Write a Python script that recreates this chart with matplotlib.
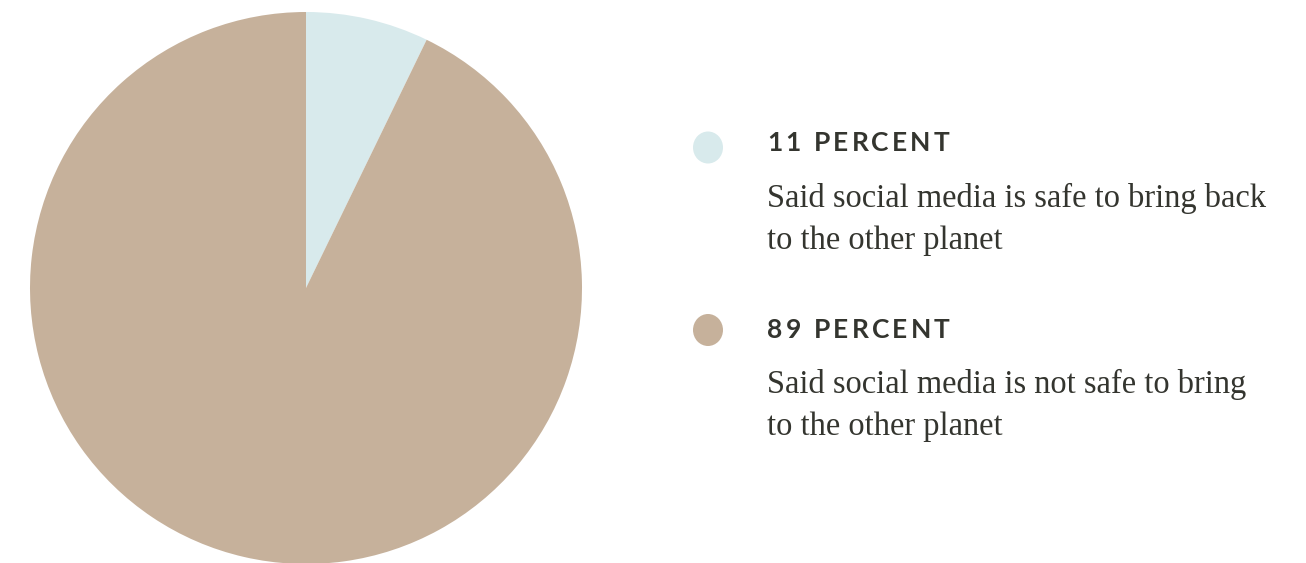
import matplotlib
matplotlib.use("Agg")
import matplotlib.pyplot as plt
from matplotlib.patches import Ellipse

# data
categories = ["Safe to bring back", "Not safe to bring"]
label_percent = [11, 89]
# slice shares as drawn in the picture (captured mid-animation)
slice_share = [7.2, 92.8]
colors = ["#d8eaec", "#c6b19b"]
headings = ["11 PERCENT", "89 PERCENT"]
descriptions = [["Said social media is safe to bring back", "to the other planet"],
                ["Said social media is not safe to bring", "to the other planet"]]

W, H = 1306, 563
fig = plt.figure(figsize=(W / 100, H / 100), dpi=100)
fig.patch.set_facecolor("white")

# pie axes: center (306,288) px from top, radius 276
cx, cy, r = 306, 288, 276
ax = fig.add_axes([(cx - r) / W, (H - cy - r) / H, 2 * r / W, 2 * r / H])
ax.pie(slice_share, colors=colors, startangle=90, counterclock=False,
       radius=1, wedgeprops=dict(linewidth=0, antialiased=True))
ax.set_xlim(-1, 1)
ax.set_ylim(-1, 1)
ax.set_aspect("equal")
ax.axis("off")

txt_color = "#34352f"
renderer = fig.canvas.get_renderer()

def fx(x):
    return x / W

def fy(y):
    return (H - y) / H

def measure(s, **kw):
    t = fig.text(0, 0, s, **kw)
    w = t.get_window_extent(renderer).width
    t.remove()
    return w

def spaced_text(x, y, s, spacing, **kw):
    ref = measure("|", **kw)
    for i, ch in enumerate(s):
        if ch == " ":
            continue
        off = measure(s[:i] + "|", **kw) - ref if i > 0 else 0
        fig.text(fx(x + off + i * spacing), fy(y), ch, va="baseline", ha="left", **kw)

head_kw = dict(fontsize=19, family="Lato", fontweight="bold", color=txt_color)
body_family = "Liberation Serif"
base_size = 20.0
w0 = measure(descriptions[0][0], fontsize=base_size, family=body_family)
body_size = base_size * 501 / w0
body_kw = dict(fontsize=body_size, family=body_family, color=txt_color)

circle_y = [147.5, 330]
head_base = [151, 338]
body_base = [[207, 249], [393, 435]]

for i in range(2):
    e = Ellipse((fx(708), fy(circle_y[i])), width=30 / W, height=32 / H,
                transform=fig.transFigure, facecolor=colors[i], edgecolor="none")
    fig.patches.append(e)
    spaced_text(767, head_base[i], headings[i], 3.2, **head_kw)
    for j, line in enumerate(descriptions[i]):
        fig.text(fx(767), fy(body_base[i][j]), line, va="baseline", ha="left", **body_kw)

fig.savefig("out.png", dpi=100, facecolor="white")
